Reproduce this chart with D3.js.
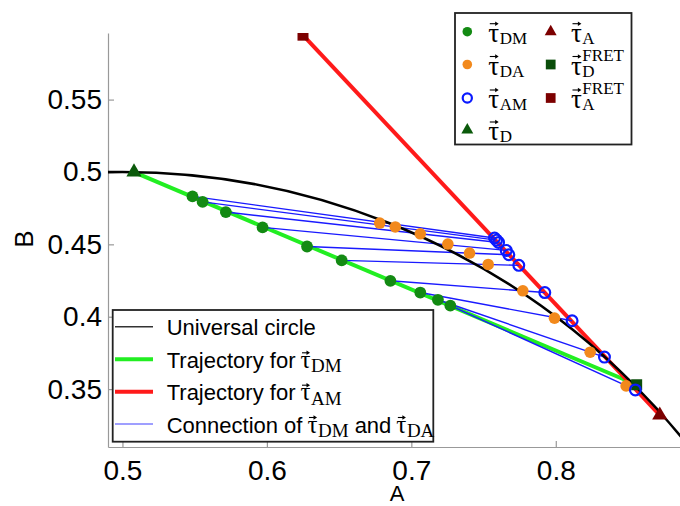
<!DOCTYPE html>
<html>
<head>
<meta charset="utf-8">
<script src="https://cdn.jsdelivr.net/npm/d3@7"></script>
<style>
  body { margin: 0; background: #fff; }
  svg { display: block; }
</style>
</head>
<body>
<svg id="chart" width="680" height="506"></svg>
<script>
// Phasor positions (A, B)
const tauDM = [
  [0.5485, 0.4831], [0.5555, 0.4793], [0.5716, 0.4723], [0.5970, 0.4617], [0.6278, 0.4485],
  [0.6518, 0.4389], [0.6855, 0.4248], [0.7062, 0.4167], [0.7184, 0.4117], [0.7270, 0.4077]
];
const tauDA = [
  [0.6781, 0.4647], [0.6889, 0.4620], [0.7062, 0.4573], [0.7253, 0.4502], [0.7403, 0.4440],
  [0.7532, 0.4361], [0.7772, 0.4179], [0.7991, 0.3990], [0.8238, 0.3755], [0.8487, 0.3522]
];
const tauAM = [
  [0.7576, 0.4544], [0.7590, 0.4529], [0.7604, 0.4513], [0.7657, 0.4458], [0.7675, 0.4428],
  [0.7744, 0.4355], [0.7924, 0.4167], [0.8113, 0.3972], [0.8337, 0.3721], [0.8551, 0.3494]
];
const tauD = [0.508, 0.4999];
const tauA = [0.872, 0.332];
const tauDFret = [0.856, 0.353];
const tauAFret = [0.625, 0.5945];

// universal circle: centre and radius
const circleCenter = [0.5, 0];
const circleRadius = 0.5;

const xTicks = [0.5, 0.6, 0.7, 0.8];
const yTicks = [0.35, 0.4, 0.45, 0.5, 0.55];

const SANS = "'Liberation Sans', Arial, sans-serif";
const SERIF = "'Liberation Serif', 'Times New Roman', serif";

const C = {
  circle: "#000",
  greenLine: "#22ee22",
  redLine: "#ff1a1a",
  link: "#1a1aff",
  dm: "#138a13",
  da: "#f2891c",
  am: "#0a1aff",
  dTri: "#0b5a0b",
  aTri: "#7c0000",
  dSq: "#0a4d0a",
  aSq: "#7c0000"
};

const svg = d3.select("#chart");

const x = d3.scaleLinear().domain([0.49, 0.886]).range([108, 680]);
const y = d3.scaleLinear().domain([0.31, 0.596]).range([447, 33]);

svg.append("defs").append("clipPath").attr("id", "plotClip")
  .append("rect")
  .attr("x", 108).attr("y", 33)
  .attr("width", 572).attr("height", 414);

/* ------------------------------------------------------------------
   Axes
------------------------------------------------------------------ */

const xAxis = svg.append("g")
  .attr("transform", "translate(0,447)")
  .call(d3.axisBottom(x)
    .tickValues(xTicks)
    .tickFormat(d3.format(""))
    .tickSizeInner(-6)
    .tickSizeOuter(0)
    .tickPadding(13));

const yAxis = svg.append("g")
  .attr("transform", "translate(108,0)")
  .call(d3.axisLeft(y)
    .tickValues(yTicks)
    .tickFormat(d3.format(""))
    .tickSizeInner(-6)
    .tickSizeOuter(0)
    .tickPadding(6));

[xAxis, yAxis].forEach(a => {
  a.select(".domain").attr("stroke", "#999").attr("stroke-width", 1.2);
  a.selectAll(".tick line").attr("stroke", "#999").attr("stroke-width", 1.2);
  a.selectAll(".tick text")
    .attr("fill", "#000")
    .attr("font-family", SANS)
    .attr("font-size", 28);
});

svg.append("text")
  .attr("x", 397).attr("y", 501)
  .attr("text-anchor", "middle")
  .attr("font-family", SANS).attr("font-size", 22)
  .text("A");

svg.append("text")
  .attr("transform", "translate(33,239) rotate(-90)")
  .attr("text-anchor", "middle")
  .attr("font-family", SANS).attr("font-size", 26)
  .text("B");

/* ------------------------------------------------------------------
   Plot content
------------------------------------------------------------------ */

const plot = svg.append("g").attr("clip-path", "url(#plotClip)");

// trajectories
plot.append("line")
  .attr("x1", x(tauD[0])).attr("y1", y(tauD[1]))
  .attr("x2", x(tauDFret[0])).attr("y2", y(tauDFret[1]))
  .attr("stroke", C.greenLine).attr("stroke-width", 4);

plot.append("line")
  .attr("x1", x(tauAFret[0])).attr("y1", y(tauAFret[1]))
  .attr("x2", x(tauA[0])).attr("y2", y(tauA[1]))
  .attr("stroke", C.redLine).attr("stroke-width", 4);

// connections tau_DM -> tau_AM (through tau_DA)
plot.append("g").selectAll("line")
  .data(d3.zip(tauDM, tauAM))
  .join("line")
  .attr("x1", d => x(d[0][0])).attr("y1", d => y(d[0][1]))
  .attr("x2", d => x(d[1][0])).attr("y2", d => y(d[1][1]))
  .attr("stroke", C.link).attr("stroke-width", 1.4);

// universal circle
plot.append("ellipse")
  .attr("cx", x(circleCenter[0]))
  .attr("cy", y(circleCenter[1]))
  .attr("rx", x(circleCenter[0] + circleRadius) - x(circleCenter[0]))
  .attr("ry", y(circleCenter[1]) - y(circleCenter[1] + circleRadius))
  .attr("fill", "none")
  .attr("stroke", C.circle).attr("stroke-width", 2.6);

const tri = d3.symbol().type(d3.symbolTriangle);
const sq = d3.symbol().type(d3.symbolSquare);

plot.append("path")
  .attr("transform", `translate(${x(tauD[0])},${y(tauD[1])})`)
  .attr("d", tri.size(100)())
  .attr("fill", C.dTri);

plot.append("path")
  .attr("transform", `translate(${x(tauAFret[0])},${y(tauAFret[1])})`)
  .attr("d", sq.size(121)())
  .attr("fill", C.aSq);

plot.append("path")
  .attr("transform", `translate(${x(tauDFret[0])},${y(tauDFret[1])})`)
  .attr("d", sq.size(121)())
  .attr("fill", C.dSq);

plot.append("g").selectAll("circle")
  .data(tauDM)
  .join("circle")
  .attr("cx", d => x(d[0])).attr("cy", d => y(d[1]))
  .attr("r", 5.9)
  .attr("fill", C.dm);

plot.append("g").selectAll("circle")
  .data(tauDA)
  .join("circle")
  .attr("cx", d => x(d[0])).attr("cy", d => y(d[1]))
  .attr("r", 5.8)
  .attr("fill", C.da);

plot.append("g").selectAll("circle")
  .data(tauAM)
  .join("circle")
  .attr("cx", d => x(d[0])).attr("cy", d => y(d[1]))
  .attr("r", 5.4)
  .attr("fill", "none")
  .attr("stroke", C.am).attr("stroke-width", 2.2);

plot.append("path")
  .attr("transform", `translate(${x(tauA[0])},${y(tauA[1])})`)
  .attr("d", tri.size(100)())
  .attr("fill", C.aTri);

/* ------------------------------------------------------------------
   Vector tau label helper
------------------------------------------------------------------ */

function arrow(g, x0, w, ay) {
  const x1 = x0 + 1.5, x2 = x0 + w - 0.5;
  g.append("path")
    .attr("d", `M${x1},${ay}L${x2 - 2},${ay}`)
    .attr("stroke", "#000").attr("stroke-width", 1.1).attr("fill", "none");
  g.append("path")
    .attr("d", `M${x2 - 3.5},${ay - 2.3}L${x2},${ay}L${x2 - 3.5},${ay + 2.3}Z`)
    .attr("fill", "#000");
}

// draws a vector tau at baseline (tx, ty); returns end x
function tauLabel(g, tx, ty, sub, sup, o) {
  const t = g.append("text")
    .attr("x", tx).attr("y", ty)
    .attr("font-family", SERIF).attr("font-size", o.tau)
    .text("τ");
  const w = t.node().getComputedTextLength();
  arrow(g, tx, w, ty - o.rise);
  let end = tx + w;
  if (sub) {
    const s = g.append("text")
      .attr("x", tx + w + 0.5).attr("y", ty + o.drop)
      .attr("font-family", SERIF).attr("font-size", o.sub)
      .text(sub);
    end = Math.max(end, tx + w + 0.5 + s.node().getComputedTextLength());
  }
  if (sup) {
    const s = g.append("text")
      .attr("x", tx + w + 0.5).attr("y", ty - o.lift)
      .attr("font-family", SERIF).attr("font-size", o.sub)
      .text(sup);
    end = Math.max(end, tx + w + 0.5 + s.node().getComputedTextLength());
  }
  return end;
}

/* ------------------------------------------------------------------
   Marker legend (top right)
------------------------------------------------------------------ */

const mLeg = svg.append("g");
mLeg.append("rect")
  .attr("x", 455).attr("y", 13)
  .attr("width", 176.5).attr("height", 131.5)
  .attr("fill", "#fff").attr("stroke", "#222").attr("stroke-width", 1.8);

const markerRows = [31.7, 64.5, 98, 130];
const markerCols = [467.3, 550.7];
const markerTextCols = [488.3, 571];
const markerItems = [
  { col: 0, row: 0, kind: "dot", color: C.dm, sub: "DM" },
  { col: 0, row: 1, kind: "dot", color: C.da, sub: "DA" },
  { col: 0, row: 2, kind: "ring", color: C.am, sub: "AM" },
  { col: 0, row: 3, kind: "tri", color: C.dTri, sub: "D" },
  { col: 1, row: 0, kind: "tri", color: C.aTri, sub: "A" },
  { col: 1, row: 1, kind: "sq", color: C.dSq, sub: "D", sup: "FRET" },
  { col: 1, row: 2, kind: "sq", color: C.aSq, sub: "A", sup: "FRET" }
];
const topOpts = { tau: 27, sub: 17, rise: 18, drop: 2, lift: 14 };

markerItems.forEach(it => {
  const mx = markerCols[it.col], my = markerRows[it.row];
  if (it.kind === "dot") {
    mLeg.append("circle").attr("cx", mx).attr("cy", my).attr("r", 4.8).attr("fill", it.color);
  } else if (it.kind === "ring") {
    mLeg.append("circle").attr("cx", mx).attr("cy", my).attr("r", 4.6)
      .attr("fill", "none").attr("stroke", it.color).attr("stroke-width", 2.2);
  } else if (it.kind === "tri") {
    mLeg.append("path").attr("transform", `translate(${mx},${my})`)
      .attr("d", tri.size(62)()).attr("fill", it.color);
  } else {
    mLeg.append("path").attr("transform", `translate(${mx},${my})`)
      .attr("d", sq.size(95)()).attr("fill", it.color);
  }
  tauLabel(mLeg, markerTextCols[it.col], my + 10, it.sub, it.sup, topOpts);
});

/* ------------------------------------------------------------------
   Line legend (bottom left)
------------------------------------------------------------------ */

const lLeg = svg.append("g");
lLeg.append("rect")
  .attr("x", 112.7).attr("y", 310)
  .attr("width", 320.6).attr("height", 131.7)
  .attr("fill", "#fff").attr("stroke", "#222").attr("stroke-width", 1.8);

const lineRows = [326.7, 359.3, 391.7, 424];
const lineItems = [
  { color: "#333", width: 1.5, parts: ["Universal circle"] },
  { color: C.greenLine, width: 4, parts: ["Trajectory for", { sub: "DM" }] },
  { color: C.redLine, width: 4, parts: ["Trajectory for", { sub: "AM" }] },
  { color: "#7f7fff", width: 1.5, parts: ["Connection of", { sub: "DM" }, "and", { sub: "DA" }] }
];
const legOpts = { tau: 25, sub: 19, rise: 15, drop: 4.5, lift: 12 };

lineItems.forEach((it, i) => {
  const ly = lineRows[i];
  lLeg.append("line")
    .attr("x1", 115).attr("x2", 153)
    .attr("y1", ly).attr("y2", ly)
    .attr("stroke", it.color).attr("stroke-width", it.width);
  let cx = 166.7;
  it.parts.forEach((p, j) => {
    if (typeof p === "string") {
      if (j > 0) cx += 6;
      const t = lLeg.append("text")
        .attr("x", cx).attr("y", ly + 8.5)
        .attr("font-family", SANS).attr("font-size", 22)
        .text(p);
      cx += t.node().getComputedTextLength() + 5;
    } else {
      cx = tauLabel(lLeg, cx, ly + 8.5, p.sub, null, legOpts);
    }
  });
});
</script>
</body>
</html>
